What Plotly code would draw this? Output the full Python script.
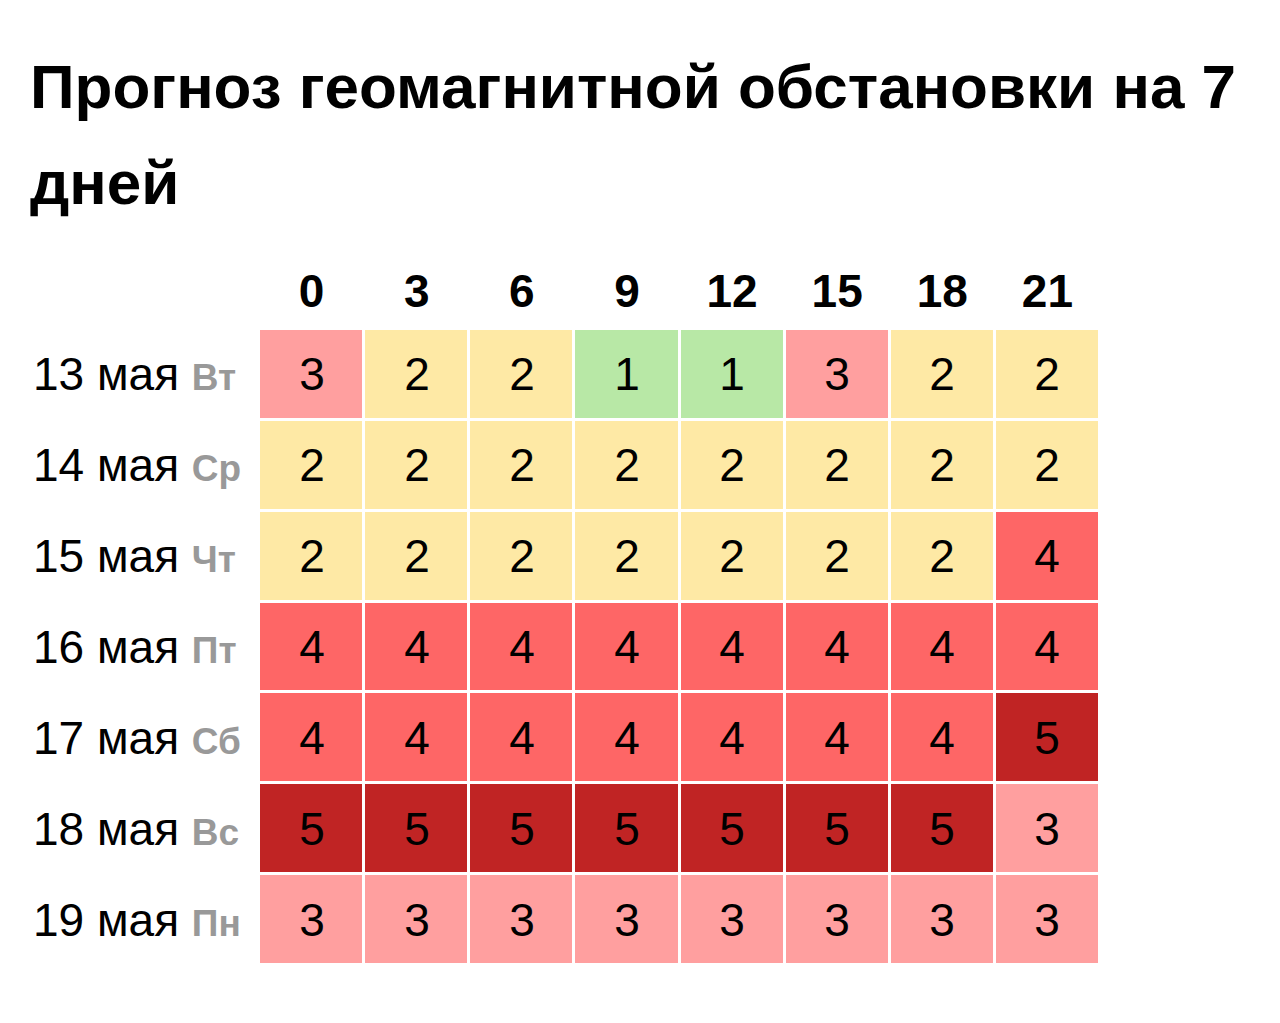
import plotly.graph_objects as go

hours = ["0", "3", "6", "9", "12", "15", "18", "21"]
dates = ["13 мая", "14 мая", "15 мая", "16 мая", "17 мая", "18 мая", "19 мая"]
weekdays = ["Вт", "Ср", "Чт", "Пт", "Сб", "Вс", "Пн"]
kp = [
    [3, 2, 2, 1, 1, 3, 2, 2],
    [2, 2, 2, 2, 2, 2, 2, 2],
    [2, 2, 2, 2, 2, 2, 2, 4],
    [4, 4, 4, 4, 4, 4, 4, 4],
    [4, 4, 4, 4, 4, 4, 4, 5],
    [5, 5, 5, 5, 5, 5, 5, 3],
    [3, 3, 3, 3, 3, 3, 3, 3],
]
level_colors = ["#b8e8a6", "#fee9a5", "#ff9f9f", "#fe6666", "#c02424"]

FONT = "Liberation Sans, Arial, sans-serif"

# discrete colorscale for values 1..5
cs = []
n = len(level_colors)
for i, c in enumerate(level_colors):
    cs.append([i / n, c])
    cs.append([(i + 1) / n, c])

row_idx = list(range(len(dates)))
row_labels = [
    f"{d} <b><span style='color:#999999;font-size:37px'>{w}</span></b>"
    for d, w in zip(dates, weekdays)
]

fig = go.Figure(
    go.Heatmap(
        z=kp,
        x=hours,
        y=row_idx,
        colorscale=cs,
        zmin=0.5,
        zmax=5.5,
        showscale=False,
        xgap=3,
        ygap=3,
        texttemplate="%{z}",
        textfont=dict(family=FONT, size=46, color="#000000"),
        hoverinfo="skip",
    )
)

W, H = 1280, 1023
L, R, T, B = 251, 188, 321, 66
fig.update_layout(
    width=W,
    height=H,
    margin=dict(l=L, r=R, t=T, b=B),
    paper_bgcolor="white",
    plot_bgcolor="white",
    font=dict(family=FONT, color="#000000"),
    xaxis=dict(
        side="top",
        type="category",
        tickfont=dict(family=FONT, size=46, color="#000000"),
        tickvals=hours,
        ticktext=[f"<b>{h}</b>" for h in hours],
        showgrid=False,
        zeroline=False,
        showline=False,
        ticks="",
        ticklabelstandoff=12,
    ),
    yaxis=dict(
        tickvals=row_idx,
        autorange="reversed",
        showticklabels=False,
        showgrid=False,
        zeroline=False,
        showline=False,
        ticks="",
    ),
)

pw = W - L - R
ph = H - T - B


def px_x(x):
    return (x - L) / pw


def px_y(y):
    return (H - B - y) / ph


# left-aligned row labels
for i, lab in zip(row_idx, row_labels):
    fig.add_annotation(
        text=lab,
        xref="paper", yref="y",
        x=px_x(23), y=i,
        xanchor="left", yanchor="middle",
        showarrow=False,
        font=dict(family=FONT, size=46, color="#000000"),
    )

fig.add_annotation(
    text="<b>Прогноз геомагнитной обстановки на 7</b>",
    xref="paper", yref="paper",
    x=px_x(20), y=px_y(78),
    xanchor="left", yanchor="middle",
    showarrow=False,
    font=dict(family=FONT, size=62, color="#000000"),
)
fig.add_annotation(
    text="<b>дней</b>",
    xref="paper", yref="paper",
    x=px_x(20), y=px_y(175),
    xanchor="left", yanchor="middle",
    showarrow=False,
    font=dict(family=FONT, size=62, color="#000000"),
)

fig.write_html("out.html")
